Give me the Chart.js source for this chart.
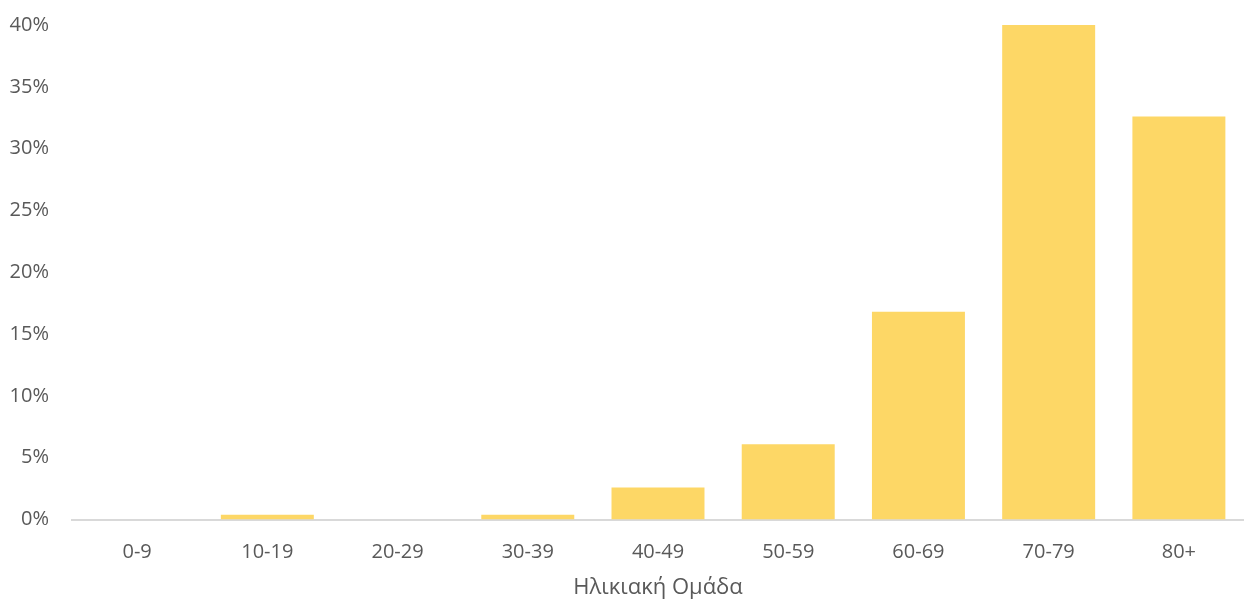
<!DOCTYPE html>
<html>
<head>
<meta charset="utf-8">
<script src="https://cdn.jsdelivr.net/npm/chart.js@4.4.1/dist/chart.umd.min.js"></script>
<style>
  html, body { margin: 0; padding: 0; background: #fff; }
  #wrap { width: 1244px; height: 601px; position: relative; }
</style>
</head>
<body>
<div id="wrap"><canvas id="ageChart"></canvas></div>
<script>
// ομάδες ηλικίας και ποσοστά (%)
const ageGroups = ["0-9", "10-19", "20-29", "30-39", "40-49", "50-59", "60-69", "70-79", "80+"];
const shares = [0, 0.4, 0, 0.4, 2.6, 6.1, 16.8, 40.0, 32.6];
const yTicks = [0, 5, 10, 15, 20, 25, 30, 35, 40];

const grey = "#595959";
const font = "'Open Sans', 'Noto Sans', sans-serif";

new Chart(document.getElementById("ageChart"), {
  type: "bar",
  data: {
    labels: ageGroups,
    datasets: [{
      data: shares,
      backgroundColor: "#fdd766",
      borderWidth: 0,
      categoryPercentage: 1,
      barPercentage: 0.714
    }]
  },
  options: {
    responsive: true,
    maintainAspectRatio: false,
    animation: false,
    layout: { padding: { top: 25, right: -4, left: 7, bottom: 0 } },
    plugins: { legend: { display: false }, tooltip: { enabled: false } },
    scales: {
      x: {
        grid: { display: false, drawTicks: false },
        border: { color: "#d9d9d9", width: 2 },
        ticks: { color: grey, font: { family: font, size: 20 }, padding: 21, maxRotation: 0 },
        title: {
          display: true,
          text: "Ηλικιακή Ομάδα",
          color: grey,
          font: { family: font, size: 22 },
          padding: { top: -11, bottom: 0 }
        }
      },
      y: {
        min: 0,
        max: 40,
        afterBuildTicks: axis => { axis.ticks = yTicks.map(v => ({ value: v })); },
        // fixed axis width; tick padding would otherwise push the plot top down
        afterFit: axis => {
          axis.width = 65;
          axis.paddingTop = 10;
          axis.paddingBottom = 10;
        },
        grid: { display: false, drawTicks: false },
        border: { display: false },
        ticks: {
          color: grey,
          font: { family: font, size: 20 },
          padding: 23,
          callback: v => `${v}%`
        }
      }
    }
  }
});
</script>
</body>
</html>
